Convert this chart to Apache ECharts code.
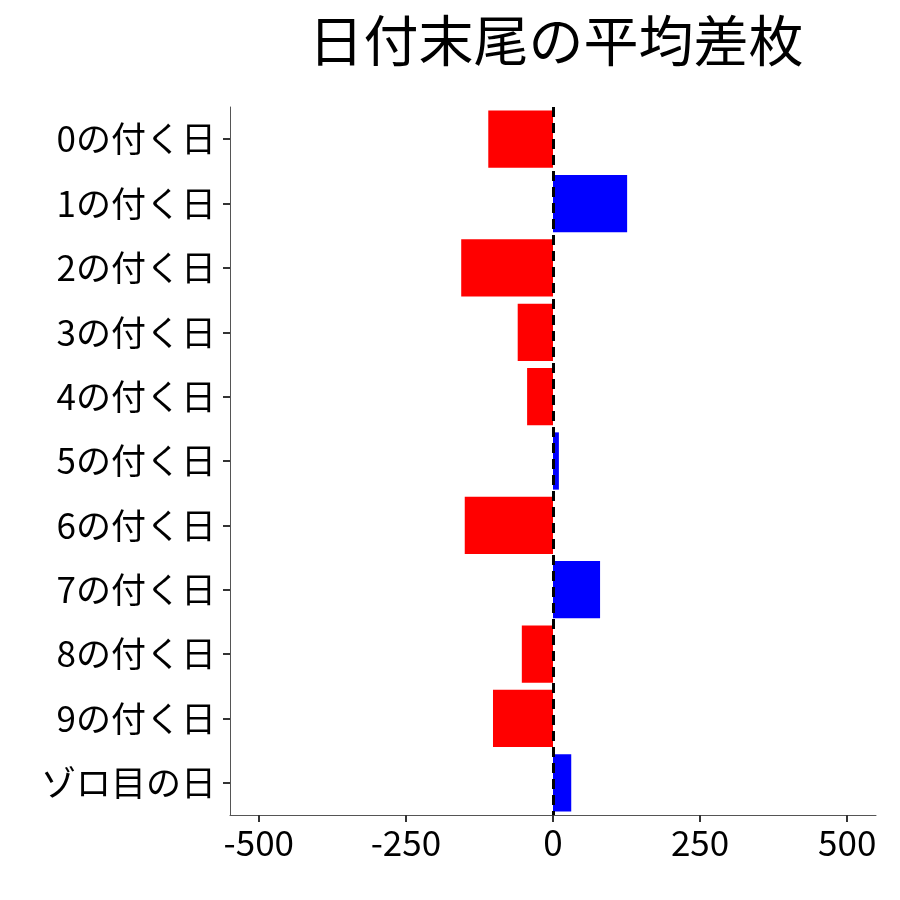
<!DOCTYPE html>
<html><head><meta charset="utf-8">
<script src="https://cdn.jsdelivr.net/npm/echarts@6/dist/echarts.min.js"></script>
<style>html,body{margin:0;padding:0;background:#fff}#c{width:900px;height:900px}</style>
</head><body><div id="c"></div>
<script>
const categories = ["0の付く日","1の付く日","2の付く日","3の付く日","4の付く日","5の付く日","6の付く日","7の付く日","8の付く日","9の付く日","ゾロ目の日"];
const values = [-110, 126, -156, -60, -44, 10, -150, 80, -53, -102, 31];
const tickValues = [-500, -250, 0, 250, 500];
const font = "Noto Sans CJK JP";
const chart = echarts.init(document.getElementById('c'));
chart.setOption({
  animation: false,
  title: {text: "日付末尾の平均差枚", left: 551, textAlign: 'center', top: 8,
    textStyle: {fontFamily: font, fontSize: 55, fontWeight: 'normal', color: '#000'}},
  grid: {left: 230, right: 24, top: 107, bottom: 85},
  xAxis: {type: 'value', min: -549, max: 549,
    axisLine: {show: true, onZero: false, lineStyle: {color: '#555', width: 1}},
    axisTick: {show: true, customValues: tickValues, length: 7, lineStyle: {color: '#333', width: 2}},
    axisLabel: {customValues: tickValues, fontFamily: font, fontSize: 35, color: '#000', margin: 10},
    splitLine: {show: false}},
  yAxis: {type: 'category', data: categories, inverse: true,
    axisLine: {show: true, onZero: false, lineStyle: {color: '#555', width: 1}},
    axisTick: {show: true, alignWithLabel: true, length: 7, lineStyle: {color: '#333', width: 2}},
    axisLabel: {fontFamily: font, fontSize: 35, color: '#000', margin: 14}},
  series: [{type: 'bar', barCategoryGap: '11%',
    data: values.map(v => ({value: v, itemStyle: {color: v < 0 ? '#ff0000' : '#0000ff'}})),
    markLine: {symbol: 'none', silent: true, label: {show: false},
      lineStyle: {color: '#000', type: [10, 6], width: 3},
      data: [{xAxis: 0}]}
  }]
});
</script></body></html>
